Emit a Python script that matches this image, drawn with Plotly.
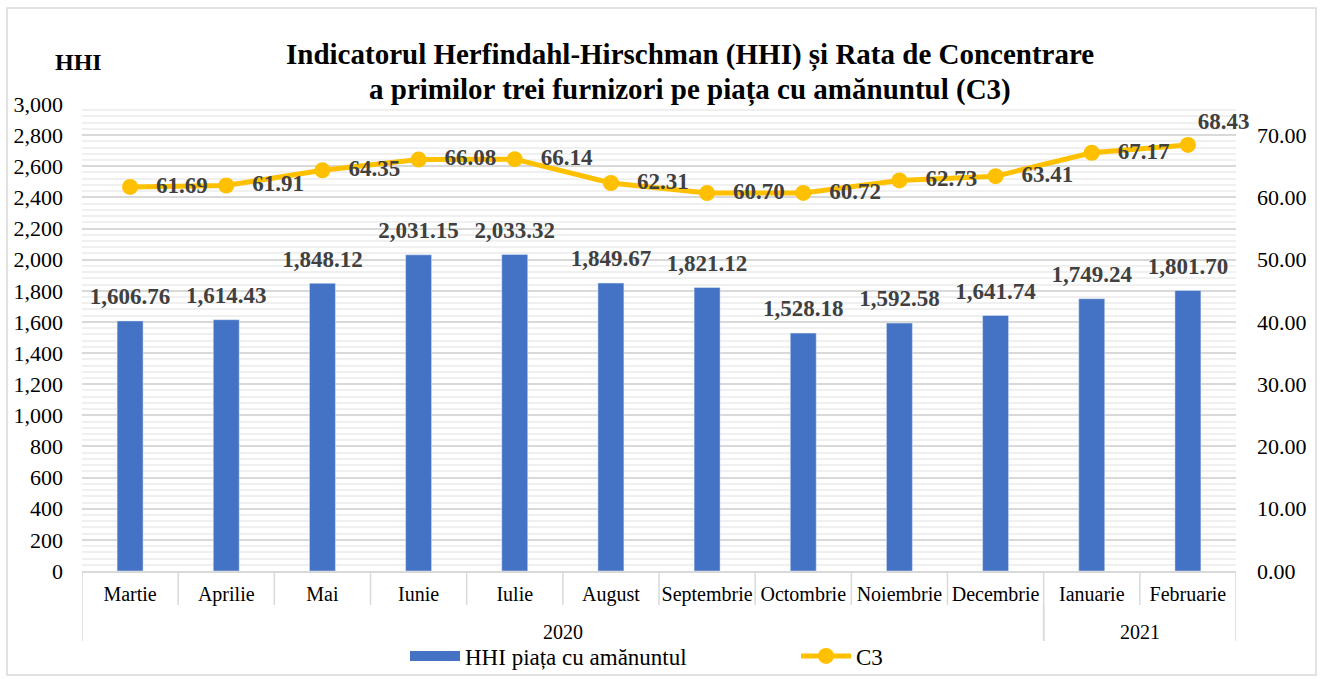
import plotly.graph_objects as go

# date
luni = ["Martie", "Aprilie", "Mai", "Iunie", "Iulie", "August", "Septembrie",
        "Octombrie", "Noiembrie", "Decembrie", "Ianuarie", "Februarie"]
ani = ["2020", "2021"]
luni_pe_an = [10, 2]
hhi = [1606.76, 1614.43, 1848.12, 2031.15, 2033.32, 1849.67, 1821.12,
       1528.18, 1592.58, 1641.74, 1749.24, 1801.70]
c3 = [61.69, 61.91, 64.35, 66.08, 66.14, 62.31, 60.70, 60.72, 62.73,
      63.41, 67.17, 68.43]

W, H = 1326, 679
L, R, T, B = 82, 90, 104, 108
pw, ph = W - L - R, H - T - B
font = "Liberation Serif"
gri = "#404040"
linie = "#d9d9d9"


def py(px):
    # pixel vertical -> coordonata paper
    return (H - B - px) / ph


def px_(x):
    return (x - L) / pw


fig = go.Figure()
fig.add_trace(go.Bar(
    x=luni, y=hhi, name="HHI piața cu amănuntul", showlegend=False,
    marker_color="#4472C4", width=0.27,
))
# etichete bare (marker invizibil ca sa le ridic putin)
fig.add_trace(go.Scatter(
    x=luni, y=hhi, mode="markers+text", showlegend=False, hoverinfo="skip",
    marker=dict(size=16, opacity=0),
    text=[f"{v:,.2f}" for v in hhi], textposition="top center",
    textfont=dict(family=font, size=23, color=gri, weight="bold"),
    cliponaxis=False,
))
# intrare de legenda pentru bare (dreptunghi lat)
fig.add_trace(go.Scatter(
    x=[None], y=[None], name="HHI piața cu amănuntul", mode="lines",
    line=dict(color="#4472C4", width=11),
))
fig.add_trace(go.Scatter(
    x=luni, y=c3, name="C3", yaxis="y2", mode="lines+markers",
    line=dict(color="#FFC000", width=5),
    marker=dict(size=16, color="#FFC000"),
    cliponaxis=False,
))
pos = ["middle right"] * 11 + ["top right"]
fig.add_trace(go.Scatter(
    x=luni, y=c3, yaxis="y2", mode="markers+text", showlegend=False,
    hoverinfo="skip",
    marker=dict(size=[40] * 11 + [14], opacity=0),
    text=[f"{v:.2f}" for v in c3], textposition=pos,
    textfont=dict(family=font, size=23, color=gri, weight="bold"),
    cliponaxis=False,
))

fig.update_layout(
    width=W, height=H,
    margin=dict(l=L, r=R, t=T, b=B, autoexpand=False),
    paper_bgcolor="white", plot_bgcolor="white",
    font=dict(family=font, size=20, color="black"),
    xaxis=dict(
        type="category", range=[-0.5, 11.5], automargin=False,
        showgrid=False, showline=True, linecolor=linie, linewidth=1.5,
        ticks="", ticklabelstandoff=4,
        tickfont=dict(family=font, size=20, color="black"),
    ),
    yaxis=dict(
        range=[0, 3000], dtick=200, tickformat=",d", automargin=False,
        showgrid=True, gridcolor=linie, gridwidth=1.5,
        minor=dict(dtick=40, showgrid=True, gridcolor="#f0f0f0", gridwidth=1.5),
        zeroline=False,
        tickfont=dict(family=font, size=22, color="black"),
        ticklabelstandoff=18,
    ),
    yaxis2=dict(
        range=[0, 75], tickvals=[0, 10, 20, 30, 40, 50, 60, 70], tickformat=".2f",
        overlaying="y", side="right", showgrid=False, zeroline=False,
        automargin=False,
        tickfont=dict(family=font, size=22, color="black"),
        ticklabelstandoff=20,
    ),
    legend=dict(
        orientation="h", x=px_(405), xanchor="left", y=py(656),
        yanchor="middle", entrywidth=326, entrywidthmode="pixels",
        font=dict(family=font, size=23, color="black"),
        itemwidth=50, traceorder="normal", bgcolor="rgba(0,0,0,0)",
    ),
)

# titlu pe doua randuri
for txt, yy in [("Indicatorul Herfindahl-Hirschman (HHI) și Rata de Concentrare", 55),
                ("a primilor trei furnizori pe piața cu amănuntul (C3)", 90)]:
    fig.add_annotation(
        text=f"<b>{txt}</b>", xref="paper", yref="paper",
        x=px_(690), y=py(yy), xanchor="center", yanchor="middle",
        showarrow=False, font=dict(family=font, size=29, color="black"),
    )

fig.add_annotation(
    text="<b>HHI</b>", xref="paper", yref="paper",
    x=px_(78), y=py(62), xanchor="center", yanchor="middle",
    showarrow=False, font=dict(family=font, size=24, color="black"),
)

# separatoare luni si ani pe axa categoriilor
for k in range(len(luni) + 1):
    fig.add_shape(type="line", xref="x", yref="paper",
                  x0=k - 0.5, x1=k - 0.5, y0=0, y1=py(605),
                  line=dict(color=linie, width=1.5))
start = 0
for an, n in zip(ani, luni_pe_an):
    fig.add_annotation(text=an, xref="x", yref="paper",
                       x=start + (n - 1) / 2, y=py(632), showarrow=False,
                       xanchor="center", yanchor="middle",
                       font=dict(family=font, size=20, color="black"))
    for b in (start - 0.5, start + n - 0.5):
        fig.add_shape(type="line", xref="x", yref="paper",
                      x0=b, x1=b, y0=py(605), y1=py(641),
                      line=dict(color=linie, width=1.5))
    start += n

# chenar exterior
fig.add_shape(
    type="rect", xref="paper", yref="paper",
    x0=px_(7), x1=px_(1316), y0=py(675), y1=py(8),
    line=dict(color=linie, width=1.5), layer="below",
)

fig.write_html("out.html", config={"displayModeBar": False},
               post_script="document.body.style.margin='0px';")
